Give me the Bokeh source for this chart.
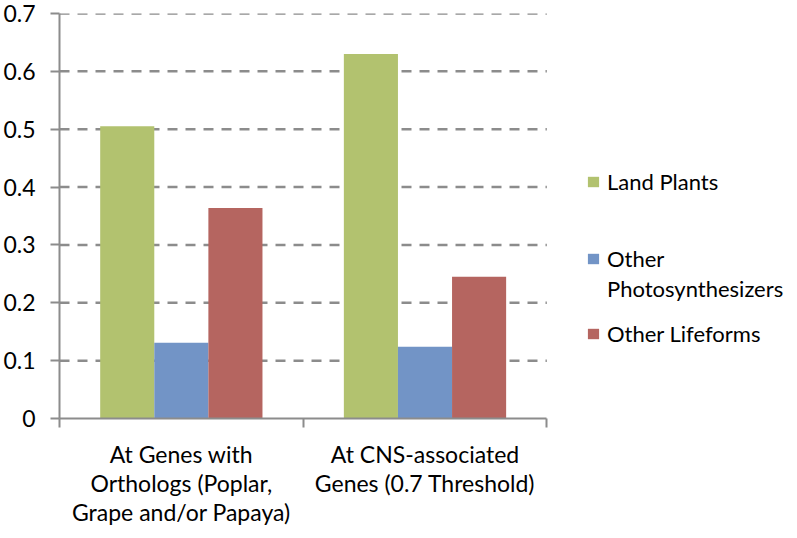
import numpy as np
from bokeh.plotting import figure
from bokeh.models import ColumnDataSource, FixedTicker, Legend, LegendItem
from bokeh.transform import dodge
from bokeh.embed import file_html
from bokeh.resources import INLINE

categories = ["At Genes with\nOrthologs (Poplar,\nGrape and/or Papaya)",
              "At CNS-associated\nGenes (0.7 Threshold)"]
series_names = ["Land Plants", "Other Photosynthesizers", "Other Lifeforms"]
land_plants = [0.505, 0.63]
other_photosynthesizers = [0.131, 0.124]
other_lifeforms = [0.364, 0.245]
y_ticks = [0, 0.1, 0.2, 0.3, 0.4, 0.5, 0.6, 0.7]

colors = ["#B2C26F", "#7294C6", "#B56560"]
FONT = "Lato"
FS = "23px"
LEG_FS = "22px"
AXIS_GRAY = "#8C8C8C"

ncat = len(categories)
xc = np.arange(ncat) + 0.5
src = ColumnDataSource(dict(x=xc, a=land_plants, b=other_photosynthesizers, c=other_lifeforms))

W, H = 789, 530
LEFT = 58
CAT_PX = 488.0  # pixel width of the category axis
# plot area spans whole width so the legends (drawn inside the frame) are not clipped;
# the category axis only covers [0, ncat]
X_EXTENT = ncat * (W - LEFT) / CAT_PX
p = figure(width=W, height=H, x_range=(0, X_EXTENT), y_range=(0, 0.7),
           min_border_left=LEFT, min_border_right=0, min_border_top=13, min_border_bottom=112,
           output_backend="svg", toolbar_location=None)
p.outline_line_color = None
p.background_fill_color = "white"

# dashed horizontal grid, limited to the category area
gy = [t for t in y_ticks if t > 0]
gsrc = ColumnDataSource(dict(x0=[0] * len(gy), x1=[ncat] * len(gy), y=gy))
p.segment(x0="x0", x1="x1", y0="y", y1="y", source=gsrc, line_color=AXIS_GRAY,
          line_width=2.5, line_dash="10 8", level="underlay")
p.xgrid.visible = False
p.ygrid.visible = False

bw = 0.222
r1 = p.vbar(x=dodge("x", -bw, range=p.x_range), top="a", width=bw, source=src,
            fill_color=colors[0], line_color=None)
r2 = p.vbar(x=dodge("x", 0, range=p.x_range), top="b", width=bw, source=src,
            fill_color=colors[1], line_color=None)
r3 = p.vbar(x=dodge("x", bw, range=p.x_range), top="c", width=bw, source=src,
            fill_color=colors[2], line_color=None)
# invisible renderer used for the second line of a wrapped legend label
r_blank = p.vbar(x=[], top=[], width=bw, fill_color=None, line_color=None)

# y axis
ya = p.yaxis[0]
ya.ticker = FixedTicker(ticks=y_ticks)
ya.major_label_overrides = {0: "0"}
ya.axis_line_color = AXIS_GRAY
ya.axis_line_width = 2
ya.major_tick_line_color = AXIS_GRAY
ya.major_tick_line_width = 2
ya.major_tick_in = 0
ya.major_tick_out = 9
ya.minor_tick_line_color = None
ya.major_label_standoff = 15
ya.major_label_text_font = FONT
ya.major_label_text_font_size = FS
ya.major_label_text_color = "black"

# x axis
xa = p.xaxis[0]
xa.bounds = (0, ncat)
xa.ticker = FixedTicker(ticks=list(xc), minor_ticks=list(range(ncat + 1)))
xa.major_label_overrides = {float(x): c for x, c in zip(xc, categories)}
xa.axis_line_color = AXIS_GRAY
xa.axis_line_width = 2
xa.major_tick_line_color = None
xa.major_tick_in = 0
xa.major_tick_out = 9
xa.minor_tick_line_color = AXIS_GRAY
xa.minor_tick_line_width = 2
xa.minor_tick_in = 0
xa.minor_tick_out = 9
xa.major_label_standoff = 12
xa.major_label_text_font = FONT
xa.major_label_text_font_size = FS
xa.major_label_text_line_height = 1.05
xa.major_label_text_color = "black"
xa.major_label_text_align = "center"

# legends: one per text line, placed to the right of the bars
w1, w2 = series_names[1].split(" ", 1)
legend_entries = [
    (r1, series_names[0], (527, 223)),
    (r2, w1, (527, 146)),
    (r_blank, w2, (527, 116)),
    (r3, series_names[2], (527, 71)),
]
for r, name, loc in legend_entries:
    lg = Legend(items=[LegendItem(label=name, renderers=[r])], location=loc,
                padding=0, margin=0, border_line_color=None, background_fill_alpha=0,
                glyph_width=14, glyph_height=13, label_standoff=7, label_height=26,
                label_text_font=FONT, label_text_font_size=LEG_FS, label_text_color="black")
    p.add_layout(lg, "center")

open("out.html", "w").write(file_html(p, INLINE))
